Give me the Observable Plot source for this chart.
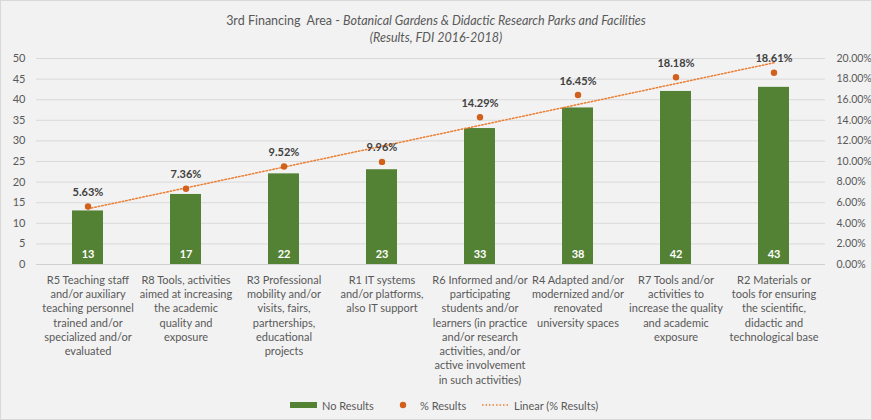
<!DOCTYPE html>
<html>
<head>
<meta charset="utf-8">
<script src="https://cdn.jsdelivr.net/npm/d3@7"></script>
<script src="https://cdn.jsdelivr.net/npm/@observablehq/plot@0.6"></script>
<style>
  html, body { margin: 0; padding: 0; background: #fff; }
  #wrap { position: relative; width: 872px; height: 420px; box-sizing: border-box; background: #f2f2f2; border: 1px solid #d9d9d9; font-family: Lato, "Open Sans", sans-serif; color: #595959; overflow: hidden; }
  #title { height: 44px; text-align: center; font-size: 12.5px; line-height: 17px; padding-top: 11px; box-sizing: border-box; }
  #title .sub { font-style: italic; }
  #legend { position: absolute; left: 0; top: 395px; width: 100%; height: 18px; font-size: 11px; }
  #legend .item { position: absolute; top: 0; display: flex; align-items: center; height: 18px; }
</style>
</head>
<body>
<div id="wrap">
  <div id="title">3rd Financing&nbsp; Area - <i>Botanical Gardens &amp; Didactic Research Parks and Facilities</i><br><span class="sub">(Results, FDI 2016-2018)</span></div>
  <div id="chart"></div>
  <div id="legend"></div>
</div>
<script>
const categories = [
  "R5 Teaching staff\nand/or auxiliary\nteaching personnel\ntrained and/or\nspecialized and/or\nevaluated",
  "R8 Tools, activities\naimed at increasing\nthe academic\nquality and\nexposure",
  "R3 Professional\nmobility and/or\nvisits, fairs,\npartnerships,\neducational\nprojects",
  "R1 IT systems\nand/or platforms,\nalso IT support",
  "R6 Informed and/or\nparticipating\nstudents and/or\nlearners (in practice\nand/or research\nactivities, and/or\nactive involvement\nin such activities)",
  "R4 Adapted and/or\nmodernized and/or\nrenovated\nuniversity spaces",
  "R7 Tools and/or\nactivities to\nincrease the quality\nand academic\nexposure",
  "R2 Materials or\ntools for ensuring\nthe scientific,\ndidactic and\ntechnological base"
];
const counts = [13, 17, 22, 23, 33, 38, 42, 43];
const pcts = [5.63, 7.36, 9.52, 9.96, 14.29, 16.45, 18.18, 18.61];
const leftTicks = [0, 5, 10, 15, 20, 25, 30, 35, 40, 45, 50];
const rightTickLabels = ["0.00%", "2.00%", "4.00%", "6.00%", "8.00%", "10.00%", "12.00%", "14.00%", "16.00%", "18.00%", "20.00%"];

const yMax = 50, pctMax = 20, k = yMax / pctMax;
const data = categories.map((c, i) => ({cat: c, n: counts[i], p: pcts[i], py: pcts[i] * k, idx: i + 1}));

// linear trend of % results vs category index
const mx = d3.mean(data, d => d.idx), my = d3.mean(data, d => d.p);
const slope = d3.sum(data, d => (d.idx - mx) * (d.p - my)) / d3.sum(data, d => (d.idx - mx) ** 2);
const intercept = my - slope * mx;
const trend = data.map(d => ({cat: d.cat, y: (intercept + slope * d.idx) * k}));

const green = "#548235", orange = "#D2601A", trendColor = "#ED7D31";

const chart = Plot.plot({
  width: 870,
  height: 352,
  marginTop: 13,
  marginBottom: 133,
  marginLeft: 35,
  marginRight: 46,
  style: {fontFamily: "Lato, 'Open Sans', sans-serif", fontSize: "11px", color: "#595959", background: "transparent"},
  x: {domain: categories, paddingInner: 0.685, paddingOuter: 0.3425, label: null},
  y: {domain: [0, yMax], label: null},
  marks: [
    Plot.ruleY(leftTicks.filter(t => t > 0), {stroke: "#d9d9d9", strokeWidth: 1}),
    Plot.ruleY([0], {stroke: "#d0d0d0", strokeWidth: 1}),
    Plot.barY(data, {x: "cat", y: "n", fill: green}),
    Plot.text(data, {x: "cat", y: 2.5, text: d => String(d.n), fill: "white", fontWeight: "bold", fontSize: 11}),
    Plot.line(trend, {x: "cat", y: "y", stroke: trendColor, strokeWidth: 1.5, strokeDasharray: "1.5,2"}),
    Plot.dot(data, {x: "cat", y: "py", r: 3.2, fill: orange}),
    Plot.text(data, {x: "cat", y: "py", dy: -14, text: d => d.p.toFixed(2) + "%", fill: "#404040", fontWeight: "bold", fontSize: 11}),
    Plot.axisY(leftTicks, {anchor: "left", tickSize: 0, tickPadding: 11, fill: "#595959", label: null, fontSize: 11}),
    Plot.axisY(leftTicks, {anchor: "right", tickSize: 0, tickPadding: 11, textAnchor: "start", fill: "#595959", label: null, fontSize: 10.5,
      tickFormat: (d) => rightTickLabels[leftTicks.indexOf(d)]}),
    Plot.axisX({anchor: "bottom", tickSize: 0, tickPadding: 9, lineHeight: 1.3, fill: "#595959", label: null, fontSize: 11, lineAnchor: "top"})
  ]
});
document.getElementById("chart").appendChild(chart);

const legend = document.getElementById("legend");
legend.innerHTML = `
  <div class="item" style="left:289px"><svg width="28" height="8"><rect x="0" y="1" width="27" height="6" fill="${green}"/></svg><span style="margin-left:4px">No Results</span></div>
  <div class="item" style="left:397px"><svg width="10" height="10"><circle cx="5" cy="5" r="3.2" fill="${orange}"/></svg><span style="margin-left:12px">% Results</span></div>
  <div class="item" style="left:480px"><svg width="28" height="6"><line x1="1" y1="3" x2="27" y2="3" stroke="${trendColor}" stroke-width="1.5" stroke-dasharray="1.5,2"/></svg><span style="margin-left:5px">Linear (% Results)</span></div>
`;
</script>
</body>
</html>
